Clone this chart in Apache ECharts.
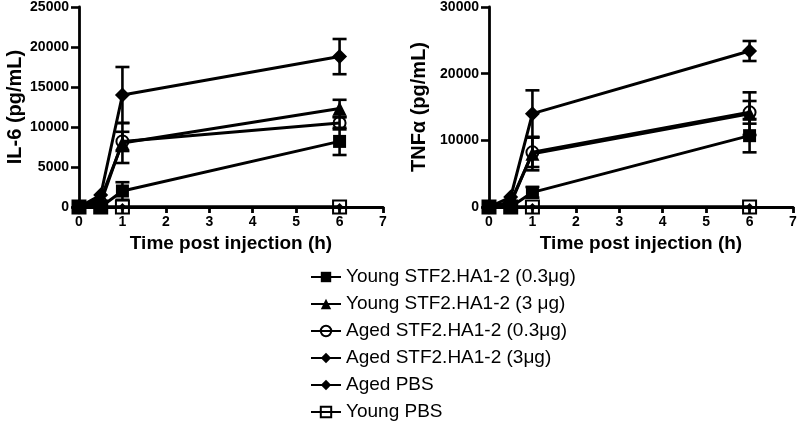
<!DOCTYPE html>
<html>
<head>
<meta charset="utf-8">
<script src="https://cdn.jsdelivr.net/npm/echarts@6/dist/echarts.min.js"></script>
<style>
html,body{margin:0;padding:0;background:#fff;}
#chart{width:800px;height:423px;}
</style>
</head>
<body>
<div id="chart"></div>
<script>
// ---------- data ----------
const times = [0, 0.5, 1, 6];
const seriesNames = [
  'Young STF2.HA1-2 (0.3μg)',
  'Young STF2.HA1-2 (3 μg)',
  'Aged STF2.HA1-2 (0.3μg)',
  'Aged STF2.HA1-2 (3μg)',
  'Aged PBS',
  'Young PBS'
];
const xTicks = [0, 1, 2, 3, 4, 5, 6, 7];

// IL-6 (pg/mL)
const il6YoungLow = [0, 0, 2000, 8200];
const il6YoungLowErr = [0, 0, 1100, 1700];
const il6YoungHigh = [0, 1000, 8000, 12300];
const il6YoungHighErr = [0, 0, 2500, 1100];
const il6AgedLow = [0, 500, 8200, 10500];
const il6AgedLowErr = [0, 0, 1200, 800];
const il6AgedHigh = [0, 1500, 14000, 18800];
const il6AgedHighErr = [0, 0, 3500, 2200];
const il6AgedPBS = [0, 0, 0, 0];
const il6YoungPBS = [0, 0, 0, 0];

// TNFa (pg/mL)
const tnfYoungLow = [0, 0, 2200, 10700];
const tnfYoungLowErr = [0, 0, 800, 2500];
const tnfYoungHigh = [0, 800, 8000, 14000];
const tnfYoungHighErr = [0, 0, 2500, 3200];
const tnfAgedLow = [0, 500, 8200, 14200];
const tnfAgedLowErr = [0, 0, 2200, 1700];
const tnfAgedHigh = [0, 1500, 14000, 23400];
const tnfAgedHighErr = [0, 0, 3500, 1500];
const tnfAgedPBS = [0, 0, 0, 0];
const tnfYoungPBS = [0, 0, 0, 0];

// ---------- styling ----------
const FONT = 'Arial, "Liberation Sans", Helvetica, sans-serif';
const BLACK = '#000';
const symbolDefs = [
  {symbol: 'rect', size: 13, fill: BLACK},
  {symbol: 'triangle', size: 14, fill: BLACK},
  {symbol: 'circle', size: 12, fill: 'rgba(255,255,255,0)'},
  {symbol: 'diamond', size: 15, fill: BLACK},
  {symbol: 'diamond', size: 8, fill: BLACK},
  {symbol: 'rect', size: 13, fill: 'rgba(255,255,255,0)'}
];

function pairs(vals) { return times.map((t, i) => [t, vals[i]]); }
function errPairs(vals, errs) { return times.map((t, i) => [t, vals[i], errs[i]]); }

function lineSeries(idx, vals, axisIdx) {
  const d = symbolDefs[idx];
  return {
    type: 'line', name: seriesNames[idx],
    xAxisIndex: axisIdx, yAxisIndex: axisIdx,
    data: pairs(vals),
    symbol: d.symbol, symbolSize: d.size,
    lineStyle: {color: BLACK, width: 3},
    itemStyle: {color: d.fill, borderColor: BLACK, borderWidth: d.fill === BLACK ? 0 : 2},
    z: 5 - (idx >= 4 ? 1 : 0),
    animation: false
  };
}

function errSeries(vals, errs, axisIdx) {
  return {
    type: 'custom',
    xAxisIndex: axisIdx, yAxisIndex: axisIdx,
    data: errPairs(vals, errs),
    encode: {x: 0, y: 1},
    z: 3,
    silent: true,
    animation: false,
    renderItem: function (params, api) {
      const x = api.value(0), y = api.value(1), e = api.value(2);
      if (!e) return null;
      const top = api.coord([x, y + e]);
      const bot = api.coord([x, Math.max(0, y - e)]);
      const hw = 7;
      const st = {stroke: BLACK, lineWidth: 2.6, fill: null};
      return {
        type: 'group',
        children: [
          {type: 'line', shape: {x1: top[0], y1: top[1], x2: bot[0], y2: bot[1]}, style: st},
          {type: 'line', shape: {x1: top[0] - hw, y1: top[1], x2: top[0] + hw, y2: top[1]}, style: st},
          {type: 'line', shape: {x1: bot[0] - hw, y1: bot[1], x2: bot[0] + hw, y2: bot[1]}, style: st}
        ]
      };
    }
  };
}

function xAxisDef(gridIdx) {
  return {
    gridIndex: gridIdx, type: 'value', min: 0, max: 7, interval: 1,
    name: 'Time post injection (h)', nameLocation: 'middle', nameGap: 27,
    nameTextStyle: {fontFamily: FONT, fontWeight: 'bold', fontSize: 19, color: BLACK},
    axisLine: {onZero: false, lineStyle: {color: BLACK, width: 2.8}},
    axisTick: {show: true, length: 6, inside: false, lineStyle: {color: BLACK, width: 2.8}},
    axisLabel: {fontFamily: FONT, fontWeight: 'bold', fontSize: 14, color: BLACK, margin: 8,
      formatter: v => xTicks.indexOf(v) >= 0 ? String(v) : ''},
    splitLine: {show: false}
  };
}

function yAxisDef(gridIdx, max, interval, name, gap) {
  return {
    gridIndex: gridIdx, type: 'value', min: 0, max: max, interval: interval,
    name: name, nameLocation: 'middle', nameGap: gap,
    nameTextStyle: {fontFamily: FONT, fontWeight: 'bold', fontSize: 20, color: BLACK},
    axisLine: {show: true, onZero: false, lineStyle: {color: BLACK, width: 2.8}},
    axisTick: {show: true, length: 8, inside: false, lineStyle: {color: BLACK, width: 2.6}},
    axisLabel: {fontFamily: FONT, fontWeight: 'bold', fontSize: 14, color: BLACK, margin: 10,
      formatter: v => String(v)},
    splitLine: {show: false}
  };
}

const il6Sets = [
  [il6YoungLow, il6YoungLowErr], [il6YoungHigh, il6YoungHighErr],
  [il6AgedLow, il6AgedLowErr], [il6AgedHigh, il6AgedHighErr],
  [il6AgedPBS, null], [il6YoungPBS, null]
];
const tnfSets = [
  [tnfYoungLow, tnfYoungLowErr], [tnfYoungHigh, tnfYoungHighErr],
  [tnfAgedLow, tnfAgedLowErr], [tnfAgedHigh, tnfAgedHighErr],
  [tnfAgedPBS, null], [tnfYoungPBS, null]
];

const series = [];
[il6Sets, tnfSets].forEach((sets, axisIdx) => {
  // PBS first (underneath)
  [4, 5, 0, 1, 2, 3].forEach(i => {
    const [v, e] = sets[i];
    if (e) series.push(errSeries(v, e, axisIdx));
    series.push(lineSeries(i, v, axisIdx));
  });
});

const chart = echarts.init(document.getElementById('chart'), null, {renderer: 'canvas'});
chart.setOption({
  backgroundColor: '#fff',
  animation: false,
  grid: [
    {left: 79, top: 7, width: 304, height: 200},
    {left: 489, top: 7, width: 304, height: 200}
  ],
  xAxis: [xAxisDef(0), xAxisDef(1)],
  yAxis: [
    yAxisDef(0, 25000, 5000, 'IL-6 (pg/mL)', 54),
    yAxisDef(1, 30000, 10000, 'TNFα (pg/mL)', 60)
  ],
  legend: {
    data: seriesNames,
    orient: 'vertical',
    left: 310, top: 267,
    padding: 0,
    itemWidth: 30, itemHeight: 13, itemGap: 7,
    textStyle: {fontFamily: FONT, fontSize: 19, color: BLACK, lineHeight: 20},
    selectedMode: false
  },
  series: series
});
</script>
</body>
</html>
